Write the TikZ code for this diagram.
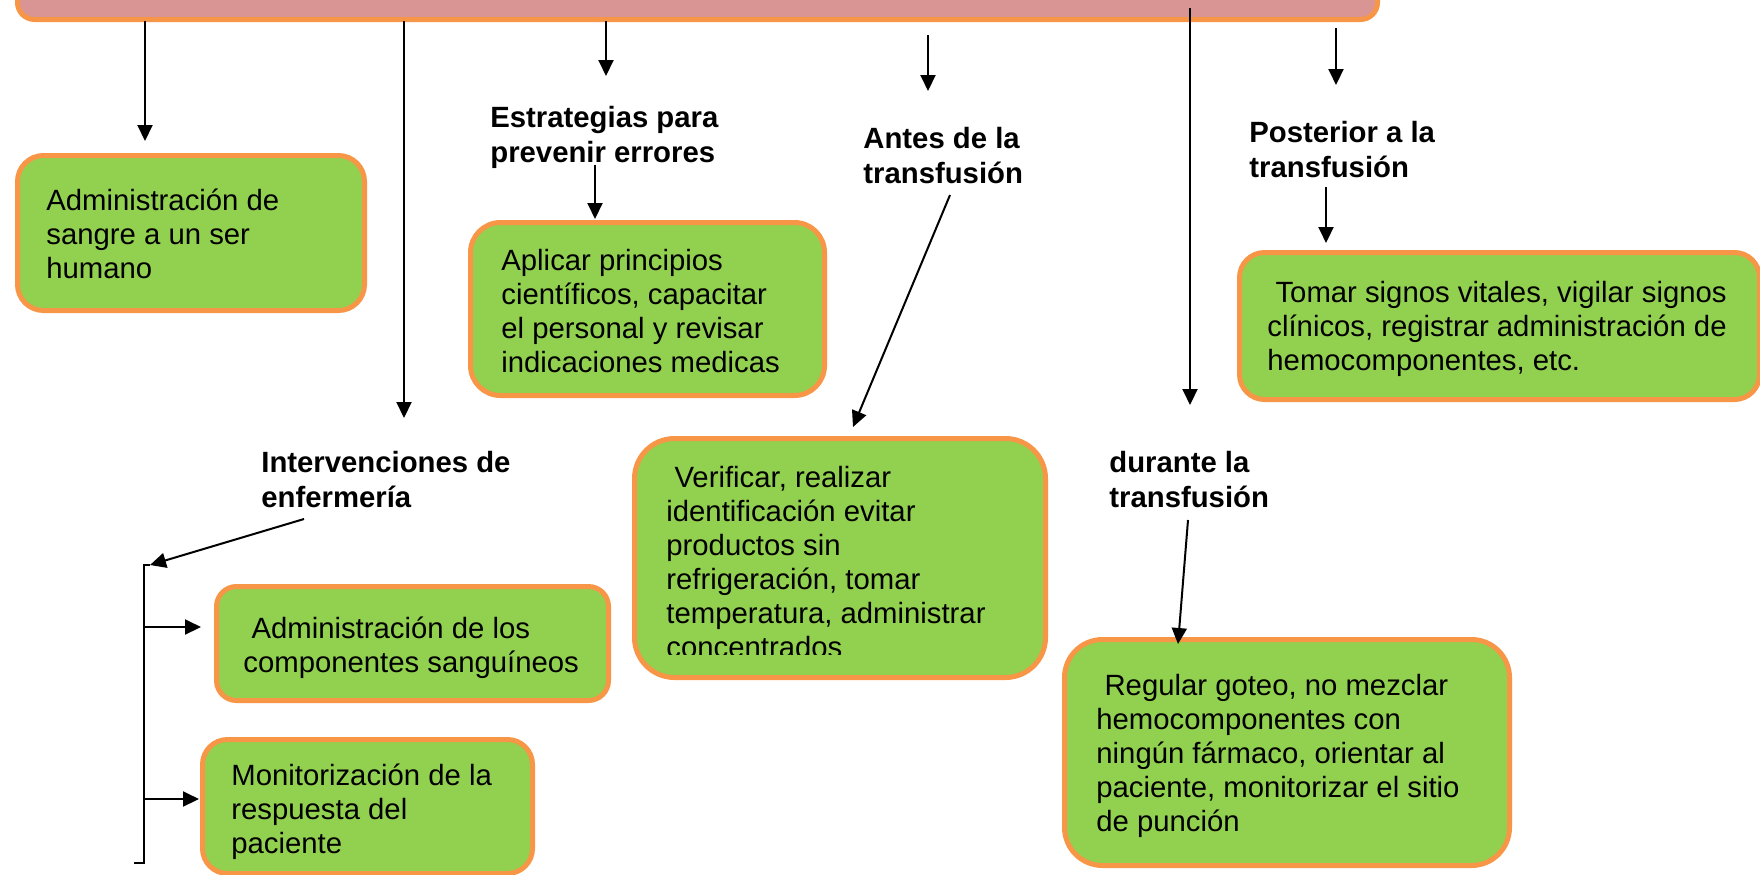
\documentclass[tikz,border=0pt]{standalone}
\usepackage{fontspec}
\setmainfont{Liberation Sans}
\usetikzlibrary{arrows.meta}
\definecolor{bpink}{HTML}{D99594}
\definecolor{borange}{HTML}{F79646}
\definecolor{bgreen}{HTML}{92D050}
\begin{document}
\begin{tikzpicture}[x=0.5pt,y=-0.5pt,
  box/.style={draw=borange, fill=bgreen, line width=2.5pt, inner sep=0pt},
  banner/.style={draw=borange, fill=bpink, line width=2.5pt, inner sep=0pt, rounded corners=8.5pt},
  txt/.style={anchor=base west, align=left, inner sep=0pt, font=\fontsize{14.65pt}{17pt}\selectfont},
  lbl/.style={anchor=base west, align=left, inner sep=0pt, font=\fontsize{14.65pt}{17.5pt}\selectfont\bfseries},
  arr/.style={line width=1pt, -{Triangle[length=8pt,width=7.5pt]}},
  ln/.style={line width=1pt}]
\useasboundingbox (0,0) rectangle (1760,874);

% banner
\node[banner, minimum width=680pt, minimum height=40pt] (banner) at (697.5,-20.5) {};

% boxes
\node[box, minimum width=173.5pt, minimum height=77.5pt, rounded corners=13pt] (b1) at (191,233) {};
\node[box, minimum width=177pt, minimum height=86.5pt, rounded corners=15pt] (b3) at (647.5,309) {};
\node[box, minimum width=260pt, minimum height=73.5pt, rounded corners=12.5pt] (bT) at (1499.5,326) {};
\node[box, minimum width=196pt, minimum height=57pt, rounded corners=10pt] (bA) at (412.5,643.5) {};
\node[box, minimum width=165pt, minimum height=67pt, rounded corners=12.5pt] (bM) at (367.5,806.5) {};
\node[box, minimum width=205.5pt, minimum height=119.5pt, rounded corners=20pt] (bV) at (840,558) {};
\node[box, minimum width=222.5pt, minimum height=113pt, rounded corners=19pt] (bR) at (1287,752.5) {};

% box texts (anchor = baseline of the last line)
\node[txt] (t1) at (46,278) {Administración de\\sangre a un ser\\humano};
\node[txt] (t3) at (501,372) {Aplicar principios\\científicos, capacitar\\el personal y revisar\\indicaciones medicas};
\node[txt] (tT) at (1267,370) {\ Tomar signos vitales, vigilar signos\\clínicos, registrar administración de\\hemocomponentes, etc.};
\node[txt] (tA) at (243,672) {\ Administración de los\\componentes sanguíneos};
\node[txt] (tM) at (231,853) {Monitorización de la\\respuesta del\\paciente};
\begin{scope}
\clip (640,440) rectangle (1040,654);
\node[txt] (tV) at (666,657) {\ Verificar, realizar\\identificación evitar\\productos sin\\refrigeración, tomar\\temperatura, administrar\\concentrados};
\end{scope}
\node[txt] (tR) at (1096,831) {\ Regular goteo, no mezclar\\hemocomponentes con\\ningún fármaco, orientar al\\paciente, monitorizar el sitio\\de punción};

% bold labels
\node[lbl] (lE) at (490,162) {Estrategias para\\prevenir errores};
\node[lbl] (lAn) at (863,183) {Antes de la\\transfusión};
\node[lbl] (lP) at (1249,177) {Posterior a la\\transfusión};
\node[lbl] (lI) at (261,507) {Intervenciones de\\enfermería};
\node[lbl] (lD) at (1109,507) {durante la\\transfusión};

% connector end points
\coordinate (s1) at (145,21);   \coordinate (e1) at (145,141);
\coordinate (s2) at (404,21);   \coordinate (e2) at (404,418);
\coordinate (s3) at (606,21);   \coordinate (e3) at (606,76);
\coordinate (s4) at (928,35);   \coordinate (e4) at (928,91);
\coordinate (s5) at (1190,8);   \coordinate (e5) at (1190,405);
\coordinate (s6) at (1336,28);  \coordinate (e6) at (1336,85);
\coordinate (s7) at (595,165);  \coordinate (e7) at (595,219);
\coordinate (s8) at (950,195);  \coordinate (e8) at (853,427);
\coordinate (s9) at (1326,187); \coordinate (e9) at (1326,243);
\coordinate (s10) at (304,519); \coordinate (e10) at (150,565);
\coordinate (s11) at (1188,520);\coordinate (e11) at (1178,644);
\coordinate (brTop) at (144,565);
\coordinate (brBot) at (144,863);
\coordinate (brFoot) at (134,863);
\coordinate (br1) at (144,627);  \coordinate (eA) at (201,627);
\coordinate (br2) at (144,799);  \coordinate (eM) at (199,799);

\draw[arr] (s1) -- (e1);
\draw[arr] (s2) -- (e2);
\draw[arr] (s3) -- (e3);
\draw[arr] (s4) -- (e4);
\draw[arr] (s5) -- (e5);
\draw[arr] (s6) -- (e6);
\draw[arr] (s7) -- (e7);
\draw[arr] (s8) -- (e8);
\draw[arr] (s9) -- (e9);
\draw[arr] (s10) -- (e10);
\draw[arr] (s11) -- (e11);
\draw[ln] (e10) -- (brTop) -- (brBot) -- (brFoot);
\draw[arr] (br1) -- (eA);
\draw[arr] (br2) -- (eM);
\end{tikzpicture}
\end{document}
